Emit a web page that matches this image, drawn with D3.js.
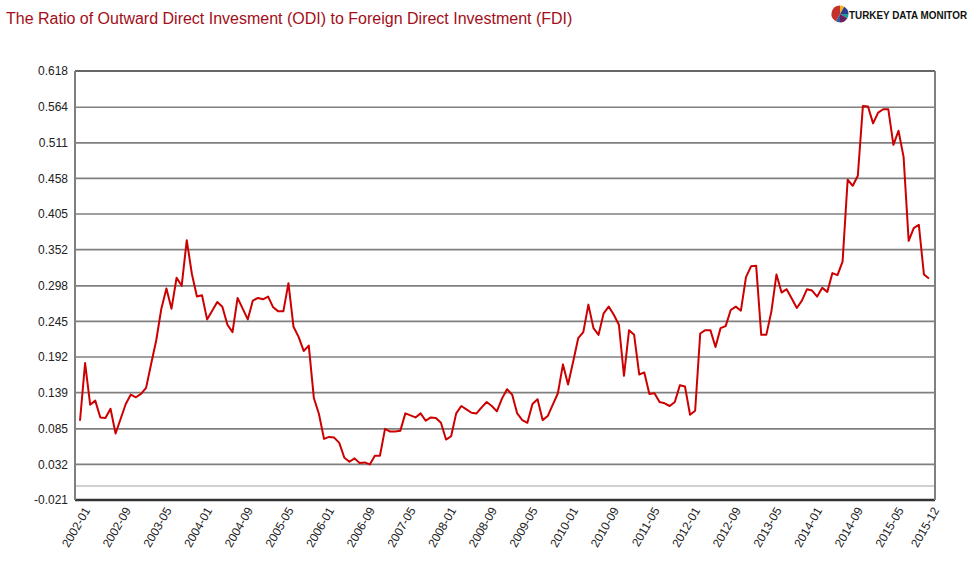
<!DOCTYPE html>
<html>
<head>
<meta charset="utf-8">
<script src="https://cdn.jsdelivr.net/npm/d3@7/dist/d3.min.js"></script>
<style>
  body { margin: 0; background: #fff; }
  text { font-family: "Liberation Sans", Arial, sans-serif; }
</style>
</head>
<body>
<div id="root"></div>
<script>
const width = 979;
const height = 570;

// monthly ratio, 2002-01 .. 2015-12
const values = [
  0.097, 0.183, 0.121, 0.127, 0.102, 0.101, 0.115, 0.078, 0.100, 0.122, 0.136, 0.132,
  0.137, 0.146, 0.182, 0.217, 0.264, 0.294, 0.264, 0.310, 0.298, 0.366, 0.316, 0.282,
  0.284, 0.248, 0.261, 0.274, 0.267, 0.240, 0.229, 0.280, 0.264, 0.248, 0.276, 0.280,
  0.278, 0.282, 0.266, 0.260, 0.260, 0.302, 0.237, 0.222, 0.201, 0.209, 0.131, 0.107,
  0.070, 0.073, 0.072, 0.064, 0.042, 0.036, 0.041, 0.034, 0.035, 0.032, 0.045, 0.045,
  0.085, 0.081, 0.081, 0.082, 0.108, 0.105, 0.102, 0.108, 0.097, 0.102, 0.101, 0.094,
  0.069, 0.074, 0.108, 0.119, 0.114, 0.109, 0.108, 0.117, 0.125, 0.119, 0.111, 0.130,
  0.144, 0.136, 0.108, 0.098, 0.094, 0.122, 0.129, 0.098, 0.104, 0.121, 0.138, 0.181,
  0.151, 0.185, 0.220, 0.229, 0.270, 0.235, 0.225, 0.257, 0.267, 0.255, 0.240, 0.164,
  0.232, 0.225, 0.166, 0.169, 0.137, 0.138, 0.125, 0.123, 0.119, 0.125, 0.150, 0.148,
  0.106, 0.112, 0.227, 0.232, 0.232, 0.207, 0.235, 0.238, 0.262, 0.267, 0.261, 0.311,
  0.327, 0.328, 0.225, 0.225, 0.260, 0.315, 0.288, 0.293, 0.279, 0.265, 0.276, 0.293,
  0.291, 0.282, 0.295, 0.289, 0.317, 0.314, 0.334, 0.456, 0.447, 0.462, 0.566, 0.565,
  0.540, 0.556, 0.561, 0.561, 0.508, 0.529, 0.490, 0.365, 0.384, 0.389, 0.315, 0.309
];

const months = values.map((v, i) => {
  const y = 2002 + Math.floor(i / 12);
  const m = (i % 12) + 1;
  return y + "-" + (m < 10 ? "0" + m : m);
});

const yTicks = [-0.021, 0.032, 0.085, 0.139, 0.192, 0.245, 0.298, 0.352, 0.405, 0.458, 0.511, 0.564, 0.618];
const xTickLabels = ["2002-01", "2002-09", "2003-05", "2004-01", "2004-09", "2005-05", "2006-01",
  "2006-09", "2007-05", "2008-01", "2008-09", "2009-05", "2010-01", "2010-09", "2011-05",
  "2012-01", "2012-09", "2013-05", "2014-01", "2014-09", "2015-05", "2015-12"];

// logo pie slices, clockwise from 12 o'clock
const logoShares = [1, 2, 1, 2, 1, 5];
const logoColors = ["#f0b323", "#2d3d8e", "#1e9e96", "#6b1f5e", "#2c5fa0", "#c4302b"];

const plot = { left: 75, right: 935, top: 71, bottom: 500 };

const svg = d3.select("#root").append("svg")
  .attr("width", width)
  .attr("height", height);

// title
svg.append("text")
  .attr("x", 6)
  .attr("y", 24)
  .attr("fill", "#a30e18")
  .attr("font-size", 16)
  .text("The Ratio of Outward Direct Invesment (ODI) to Foreign Direct Investment (FDI)");

// logo
const logo = svg.append("g").attr("transform", "translate(840,14)");
const pie = d3.pie().sort(null)(logoShares);
const arc = d3.arc().innerRadius(0).outerRadius(8.5);
logo.selectAll("path")
  .data(pie)
  .enter().append("path")
  .attr("d", arc)
  .attr("fill", (d, i) => logoColors[i]);
svg.append("text")
  .attr("transform", "translate(849,18.5) scale(0.86,1)")
  .attr("font-size", 11.5)
  .attr("font-weight", "bold")
  .attr("fill", "#111")
  .text("TURKEY DATA MONITOR");

const x = d3.scalePoint()
  .domain(months)
  .range([80, 929]);

const y = d3.scaleLinear()
  .domain([-0.021, 0.618])
  .range([plot.bottom, plot.top]);

// grid
svg.append("g")
  .selectAll("line")
  .data(yTicks)
  .enter().append("line")
  .attr("x1", plot.left)
  .attr("x2", plot.right)
  .attr("y1", d => y(d))
  .attr("y2", d => y(d))
  .attr("stroke", (d, i) => (i == 0 || i == yTicks.length - 1) ? "#333" : "#808080")
  .attr("stroke-width", (d, i) => i == 0 ? 2.5 : 1.6);

// zero line
svg.append("line")
  .attr("x1", plot.left)
  .attr("x2", plot.right)
  .attr("y1", y(0))
  .attr("y2", y(0))
  .attr("stroke", "#c0c0c0")
  .attr("stroke-width", 1.5);

// left and right borders
svg.append("line")
  .attr("x1", plot.left).attr("x2", plot.left)
  .attr("y1", plot.top).attr("y2", plot.bottom)
  .attr("stroke", "#808080").attr("stroke-width", 2);
svg.append("line")
  .attr("x1", plot.right).attr("x2", plot.right)
  .attr("y1", plot.top).attr("y2", plot.bottom)
  .attr("stroke", "#808080").attr("stroke-width", 2);

// y labels
svg.append("g")
  .selectAll("text")
  .data(yTicks)
  .enter().append("text")
  .attr("x", 68)
  .attr("y", d => y(d))
  .attr("dy", "0.35em")
  .attr("text-anchor", "end")
  .attr("font-size", 12)
  .attr("fill", "#222")
  .text(d => d.toFixed(3));

// x labels
svg.append("g")
  .selectAll("text")
  .data(xTickLabels)
  .enter().append("text")
  .attr("transform", d => "translate(" + (x(d) + 7) + "," + 508 + ") rotate(-60)")
  .attr("text-anchor", "end")
  .attr("dy", "0.35em")
  .attr("font-size", 12)
  .attr("fill", "#222")
  .text(d => d);

// series
const line = d3.line()
  .x((d, i) => x(months[i]))
  .y(d => y(d));

svg.append("path")
  .datum(values)
  .attr("d", line)
  .attr("fill", "none")
  .attr("stroke", "#cc0000")
  .attr("stroke-width", 2)
  .attr("stroke-linejoin", "round");
</script>
</body>
</html>
